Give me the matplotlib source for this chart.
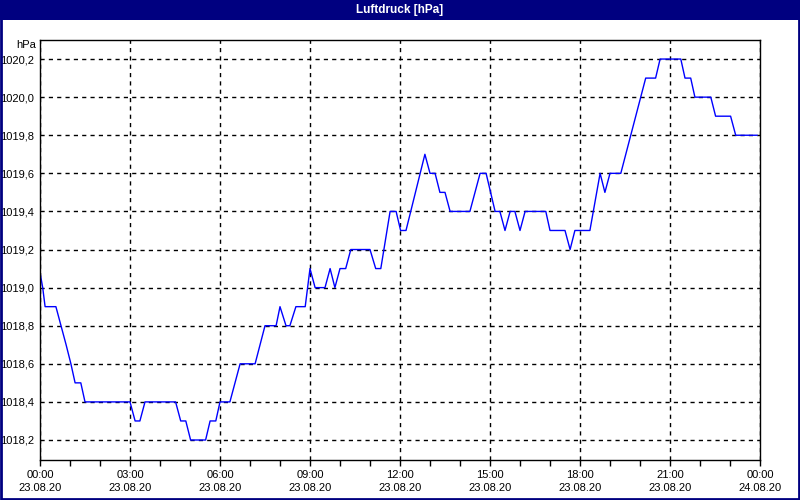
import matplotlib
matplotlib.use("Agg")
import matplotlib.pyplot as plt
from matplotlib.patches import Rectangle

# Zeitpunkte (Stunden ab 23.08.20 00:00) und Luftdruck in hPa
stunden = [0.0, 0.09, 0.17, 0.53, 0.70, 0.87, 1.03, 1.17, 1.36, 1.5,
           3.0, 3.17, 3.33, 3.5, 4.52, 4.69, 4.86, 5.02, 5.52, 5.67, 5.86,
           6.0, 6.33, 6.67, 7.17, 7.5, 7.87, 8.0, 8.2, 8.33, 8.53, 8.84,
           9.0, 9.17, 9.5, 9.67, 9.83, 10.0, 10.19, 10.36, 11.0, 11.19, 11.36,
           11.67, 11.87, 12.02, 12.2, 12.83, 13.0, 13.17, 13.33, 13.5, 13.67,
           14.33, 14.67, 14.87, 15.17, 15.33, 15.5, 15.67, 15.83, 16.0, 16.17,
           16.86, 17.0, 17.5, 17.67, 17.83, 18.33, 18.67, 18.83, 19.0, 19.36,
           20.19, 20.52, 20.67, 21.36, 21.5, 21.69, 21.83, 22.36, 22.52, 23.02,
           23.19, 23.9]
druck = [1019.08, 1019.0, 1018.9, 1018.9, 1018.8, 1018.7, 1018.6, 1018.5, 1018.5, 1018.4,
         1018.4, 1018.3, 1018.3, 1018.4, 1018.4, 1018.3, 1018.3, 1018.2, 1018.2, 1018.3, 1018.3,
         1018.4, 1018.4, 1018.6, 1018.6, 1018.8, 1018.8, 1018.9, 1018.8, 1018.8, 1018.9, 1018.9,
         1019.1, 1019.0, 1019.0, 1019.1, 1019.0, 1019.1, 1019.1, 1019.2, 1019.2, 1019.1, 1019.1,
         1019.4, 1019.4, 1019.3, 1019.3, 1019.7, 1019.6, 1019.6, 1019.5, 1019.5, 1019.4,
         1019.4, 1019.6, 1019.6, 1019.4, 1019.4, 1019.3, 1019.4, 1019.4, 1019.3, 1019.4,
         1019.4, 1019.3, 1019.3, 1019.2, 1019.3, 1019.3, 1019.6, 1019.5, 1019.6, 1019.6,
         1020.1, 1020.1, 1020.2, 1020.2, 1020.1, 1020.1, 1020.0, 1020.0, 1019.9, 1019.9,
         1019.8, 1019.8]

x_ticks = [0, 3, 6, 9, 12, 15, 18, 21, 24]
x_labels = ["00:00\n23.08.20", "03:00\n23.08.20", "06:00\n23.08.20", "09:00\n23.08.20",
            "12:00\n23.08.20", "15:00\n23.08.20", "18:00\n23.08.20", "21:00\n23.08.20",
            "00:00\n24.08.20"]
y_ticks = [1018.2, 1018.4, 1018.6, 1018.8, 1019.0, 1019.2, 1019.4, 1019.6, 1019.8, 1020.0, 1020.2]

navy = "#000080"
plt.rcParams['font.family'] = ['Liberation Sans Narrow', 'Liberation Sans', 'DejaVu Sans']

fig = plt.figure(figsize=(8, 5), dpi=100, facecolor="white")
# Titelleiste und Rahmen
fig.patches.append(Rectangle((0, 1 - 20 / 500), 1, 20 / 500, transform=fig.transFigure,
                             facecolor=navy, edgecolor="none", zorder=0))
fig.patches.append(Rectangle((0.001, 0.002), 0.998, 0.996, transform=fig.transFigure,
                             facecolor="none", edgecolor=navy, linewidth=2, zorder=1))
fig.text(0.5, 1 - 10 / 500, "Luftdruck [hPa]", color="white", fontsize=8.5,
         fontweight="bold", ha="center", va="center")

ax = fig.add_axes([40 / 800, 40 / 500, 720 / 800, 420 / 500])
ax.plot(stunden, druck, color="#0000ff", linewidth=1)

ax.set_xlim(0, 24)
ax.set_ylim(1018.095, 1020.3)
ax.set_xticks(x_ticks)
ax.set_xticklabels(x_labels, fontsize=8, linespacing=1.45)
ax.set_xticks(range(0, 25), minor=True)
ax.set_yticks(y_ticks)
ax.set_yticklabels([f"{v:.1f}".replace(".", ",") for v in y_ticks], fontsize=8)
ax.tick_params(axis="x", which="both", direction="out", length=4, width=1, pad=3)
ax.tick_params(axis="y", length=0, pad=4)
ax.grid(True, color="black", linestyle=(0, (3, 3)), linewidth=1)
for s in ax.spines.values():
    s.set_linewidth(1)
    s.set_color("black")
ax.text(-0.005, 1.0, "hPa", transform=ax.transAxes, fontsize=8, ha="right", va="top")

fig.savefig("out.png", dpi=100, facecolor="white")
